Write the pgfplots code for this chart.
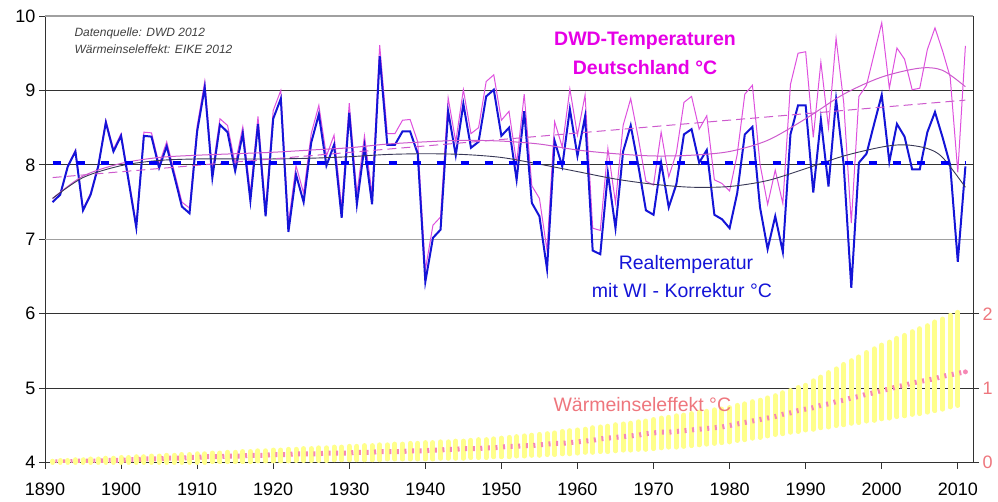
\documentclass[border=0pt]{standalone}
\usepackage{fontspec}
\setmainfont{Liberation Sans}
\usepackage{pgfplots}
\pgfplotsset{compat=1.18}
\usepackage{pgfplotstable}
\definecolor{realblue}{RGB}{20,20,215}
\definecolor{meanblue}{RGB}{0,0,245}
\definecolor{dwdmag}{RGB}{222,80,222}
\definecolor{dwdtext}{RGB}{230,0,230}
\definecolor{polymag}{RGB}{205,90,205}
\definecolor{polyblk}{RGB}{55,55,85}
\definecolor{salmon}{RGB}{238,118,125}
\definecolor{wipink}{RGB}{245,135,180}
\definecolor{wiyellow}{RGB}{255,255,140}
\definecolor{darkgrid}{RGB}{50,50,50}
\definecolor{lightgrid}{RGB}{160,160,160}

\pgfplotstableread{
year real dwd
1891 7.50 7.51
1892 7.60 7.61
1893 7.98 7.99
1894 8.18 8.20
1895 7.39 7.41
1896 7.60 7.62
1897 7.98 8.00
1898 8.57 8.60
1899 8.18 8.21
1900 8.39 8.42
1901 7.78 7.82
1902 7.16 7.20
1903 8.39 8.44
1904 8.38 8.43
1905 7.96 8.01
1906 8.25 8.31
1907 7.85 7.91
1908 7.44 7.50
1909 7.35 7.42
1910 8.45 8.52
1911 9.04 9.12
1912 7.83 7.91
1913 8.54 8.62
1914 8.44 8.53
1915 7.92 8.01
1916 8.42 8.51
1917 7.52 7.62
1918 8.55 8.65
1919 7.31 7.41
1920 8.62 8.73
1921 8.89 9.00
1922 7.10 7.21
1923 7.87 7.99
1924 7.50 7.62
1925 8.30 8.42
1926 8.68 8.80
1927 7.99 8.12
1928 8.27 8.40
1929 7.29 7.42
1930 8.70 8.83
1931 7.47 7.61
1932 8.25 8.39
1933 7.47 7.61
1934 9.46 9.61
1935 8.27 8.42
1936 8.27 8.42
1937 8.45 8.60
1938 8.45 8.61
1939 8.15 8.31
1940 6.43 6.59
1941 7.02 7.19
1942 7.13 7.30
1943 8.72 8.90
1944 8.13 8.31
1945 8.82 9.01
1946 8.23 8.42
1947 8.31 8.50
1948 8.92 9.12
1949 9.01 9.21
1950 8.39 8.60
1951 8.50 8.72
1952 7.80 8.02
1953 8.72 8.95
1954 7.49 7.72
1955 7.31 7.55
1956 6.60 6.85
1957 8.32 8.58
1958 7.98 8.24
1959 8.75 9.02
1960 8.12 8.40
1961 8.65 8.94
1962 6.85 7.15
1963 6.80 7.12
1964 7.89 8.22
1965 7.15 7.49
1966 8.18 8.53
1967 8.53 8.89
1968 7.99 8.36
1969 7.39 7.78
1970 7.33 7.73
1971 8.03 8.44
1972 7.43 7.84
1973 7.74 8.16
1974 8.41 8.84
1975 8.48 8.92
1976 8.03 8.48
1977 8.20 8.66
1978 7.33 7.80
1979 7.27 7.75
1980 7.15 7.65
1981 7.62 8.14
1982 8.41 8.95
1983 8.51 9.07
1984 7.43 8.01
1985 6.87 7.47
1986 7.31 7.93
1987 6.83 7.48
1988 8.41 9.08
1989 8.80 9.50
1990 8.80 9.52
1991 7.63 8.37
1992 8.61 9.38
1993 7.71 8.50
1994 8.88 9.70
1995 8.00 8.84
1996 6.35 7.22
1997 8.03 8.92
1998 8.15 9.07
1999 8.55 9.49
2000 8.94 9.91
2001 8.04 9.03
2002 8.55 9.57
2003 8.38 9.42
2004 7.94 9.01
2005 7.94 9.03
2006 8.44 9.55
2007 8.71 9.84
2008 8.37 9.53
2009 8.00 9.18
2010 6.70 7.90
2011 7.98 9.60
}\temps

\pgfplotstableread{
year val
1891 7.55
1895 7.83
1900 7.99
1905 8.06
1910 8.08
1915 8.08
1920 8.08
1925 8.09
1930 8.11
1935 8.14
1940 8.15
1945 8.14
1950 8.10
1955 8.01
1960 7.91
1965 7.81
1970 7.74
1975 7.70
1980 7.71
1985 7.79
1990 7.95
1995 8.12
2000 8.24
2003 8.27
2006 8.22
2008 8.10
2011 7.70
}\polyreal

\pgfplotstableread{
year val
1891 7.55
1895 7.85
1900 8.02
1905 8.10
1910 8.13
1915 8.15
1920 8.17
1925 8.20
1930 8.23
1935 8.28
1940 8.31
1945 8.33
1950 8.32
1955 8.28
1960 8.20
1965 8.15
1970 8.12
1975 8.13
1980 8.18
1985 8.33
1990 8.62
1995 8.95
2000 9.18
2005 9.30
2008 9.27
2011 9.05
}\polydwd

\pgfplotstableread{
year mean low high
1891 0.01 0.00 0.02
1892 0.01 0.00 0.03
1893 0.01 0.00 0.03
1894 0.02 0.00 0.04
1895 0.02 0.00 0.04
1896 0.02 0.00 0.05
1897 0.02 0.00 0.05
1898 0.03 0.00 0.06
1899 0.03 0.00 0.06
1900 0.03 0.00 0.07
1901 0.04 0.00 0.07
1902 0.04 0.00 0.08
1903 0.05 0.00 0.08
1904 0.05 0.00 0.09
1905 0.05 0.00 0.09
1906 0.06 0.00 0.10
1907 0.06 0.00 0.10
1908 0.06 0.00 0.11
1909 0.07 0.00 0.11
1910 0.07 0.00 0.12
1911 0.08 0.00 0.12
1912 0.08 0.01 0.13
1913 0.08 0.01 0.13
1914 0.09 0.01 0.14
1915 0.09 0.01 0.14
1916 0.09 0.01 0.15
1917 0.10 0.01 0.15
1918 0.10 0.02 0.16
1919 0.10 0.02 0.16
1920 0.11 0.02 0.17
1921 0.11 0.02 0.17
1922 0.11 0.02 0.18
1923 0.12 0.03 0.18
1924 0.12 0.03 0.19
1925 0.12 0.03 0.19
1926 0.12 0.03 0.20
1927 0.13 0.03 0.20
1928 0.13 0.04 0.21
1929 0.13 0.04 0.21
1930 0.13 0.04 0.22
1931 0.14 0.04 0.22
1932 0.14 0.04 0.23
1933 0.14 0.04 0.23
1934 0.15 0.04 0.24
1935 0.15 0.05 0.24
1936 0.15 0.05 0.25
1937 0.15 0.05 0.25
1938 0.16 0.05 0.26
1939 0.16 0.05 0.26
1940 0.16 0.05 0.27
1941 0.17 0.05 0.27
1942 0.17 0.06 0.28
1943 0.18 0.06 0.28
1944 0.18 0.06 0.29
1945 0.19 0.06 0.29
1946 0.19 0.07 0.30
1947 0.19 0.07 0.31
1948 0.20 0.07 0.31
1949 0.20 0.08 0.32
1950 0.21 0.08 0.33
1951 0.22 0.08 0.34
1952 0.22 0.09 0.35
1953 0.23 0.09 0.36
1954 0.23 0.10 0.37
1955 0.24 0.10 0.38
1956 0.25 0.11 0.39
1957 0.26 0.11 0.40
1958 0.26 0.12 0.42
1959 0.27 0.12 0.43
1960 0.28 0.13 0.44
1961 0.29 0.14 0.45
1962 0.30 0.14 0.47
1963 0.32 0.15 0.48
1964 0.33 0.15 0.49
1965 0.34 0.16 0.51
1966 0.35 0.17 0.52
1967 0.36 0.17 0.53
1968 0.37 0.18 0.55
1969 0.39 0.18 0.56
1970 0.40 0.19 0.58
1971 0.41 0.20 0.60
1972 0.41 0.21 0.61
1973 0.42 0.21 0.63
1974 0.43 0.22 0.64
1975 0.44 0.23 0.66
1976 0.45 0.24 0.68
1977 0.46 0.25 0.69
1978 0.47 0.26 0.71
1979 0.48 0.27 0.72
1980 0.50 0.28 0.74
1981 0.52 0.30 0.77
1982 0.54 0.31 0.79
1983 0.56 0.33 0.82
1984 0.58 0.34 0.84
1985 0.60 0.36 0.87
1986 0.62 0.38 0.90
1987 0.65 0.39 0.94
1988 0.67 0.41 0.97
1989 0.70 0.42 1.01
1990 0.72 0.44 1.04
1991 0.74 0.45 1.10
1992 0.77 0.47 1.15
1993 0.79 0.48 1.21
1994 0.82 0.50 1.26
1995 0.84 0.51 1.32
1996 0.87 0.53 1.37
1997 0.89 0.54 1.42
1998 0.92 0.56 1.48
1999 0.94 0.57 1.53
2000 0.97 0.59 1.58
2001 0.99 0.60 1.62
2002 1.02 0.62 1.67
2003 1.04 0.63 1.71
2004 1.07 0.65 1.76
2005 1.09 0.66 1.80
2006 1.11 0.68 1.84
2007 1.13 0.70 1.89
2008 1.16 0.72 1.93
2009 1.18 0.75 1.98
2010 1.20 0.77 2.02
2011 1.22 nan nan
}\wi

\begin{document}
\begin{tikzpicture}
\useasboundingbox (0,0) rectangle (998pt,501pt);
\begin{axis}[
  at={(45pt,38.3pt)}, anchor=south west,
  scale only axis, width=928pt, height=446.7pt,
  xmin=1890, xmax=2012, ymin=4, ymax=10,
  axis x line*=bottom, axis y line*=left,
  axis line style={-, draw=darkgrid, line width=1pt},
  xtick={1890,1900,...,2010},
  ytick={4,5,6,8,9},
  extra y ticks={7,10},
  extra y tick style={grid=major, major grid style={lightgrid, line width=1.4pt}},
  ymajorgrids,
  major grid style={darkgrid, line width=0.9pt},
  tick align=outside, major tick length=6pt,
  tick style={darkgrid, line width=1pt},
  tick label style={font=\fontsize{18}{20}\selectfont, text=black},
  xticklabel style={yshift=-11pt},
  /pgf/number format/assume math mode=true,
  /pgf/number format/1000 sep={},
  clip=true,
]
\addplot[dwdmag, line width=1pt] table[x=year,y=dwd]{\temps};
\addplot[realblue, line width=2pt] table[x=year,y=real]{\temps};
\addplot[polymag, line width=1pt, smooth] table[x=year,y=val]{\polydwd};
\addplot[polyblk, line width=0.9pt, smooth] table[x=year,y=val]{\polyreal};
\addplot[polymag, line width=1pt, dash pattern=on 9pt off 5pt] coordinates {(1891,7.83) (2011,8.87)};
\addplot[meanblue, line width=4pt, dash pattern=on 8pt off 16pt] coordinates {(1891,8.02) (2011,8.02)};
\end{axis}
\begin{axis}[
  at={(45pt,38.3pt)}, anchor=south west,
  scale only axis, width=928pt, height=446.7pt,
  xmin=1890, xmax=2012, ymin=0, ymax=6,
  axis x line=none, axis y line*=right,
  axis line style={-, draw=darkgrid, line width=1pt},
  ytick={0,1,2},
  tick align=outside, major tick length=6pt,
  tick style={darkgrid, line width=1pt},
  tick label style={font=\fontsize{18}{20}\selectfont, text=salmon},
  /pgf/number format/assume math mode=true,
]
\addplot[wiyellow, only marks, mark=none,
  error bars/.cd, y dir=plus, y explicit,
  error bar style={draw=wiyellow, line width=5pt, line cap=round},
  error mark=none]
  table[x=year, y=low, y error plus expr=\thisrow{high}-\thisrow{low}]{\wi};
\addplot[wipink, line width=5pt, dash pattern=on 2pt off 5.6pt, dash phase=4.8pt]
  table[x=year, y=mean]{\wi};
\addplot[wipink, only marks, mark=*, mark size=2.2pt] coordinates {(2011,1.22)};
\end{axis}
\node[anchor=base west, font=\fontsize{12}{14}\selectfont\itshape, text=black!75] at (71pt,464pt) {Datenquelle: DWD 2012};
\node[anchor=base west, font=\fontsize{12}{14}\selectfont\itshape, text=black!75] at (71pt,447pt) {Wärmeinseleffekt: EIKE 2012};
\node[anchor=base, font=\fontsize{19.5}{22}\selectfont\bfseries, text=dwdtext] at (645pt,455pt) {DWD-Temperaturen};
\node[anchor=base, font=\fontsize{19.5}{22}\selectfont\bfseries, text=dwdtext] at (645pt,426pt) {Deutschland °C};
\node[anchor=base, font=\fontsize{19.5}{22}\selectfont, text=realblue] at (686pt,231pt) {Realtemperatur};
\node[anchor=base, font=\fontsize{19.5}{22}\selectfont, text=realblue] at (682pt,203pt) {mit WI - Korrektur °C};
\node[anchor=base west, font=\fontsize{19.5}{22}\selectfont, text=salmon] at (550pt,90pt) {Wärmeinseleffekt °C};
\end{tikzpicture}
\end{document}
